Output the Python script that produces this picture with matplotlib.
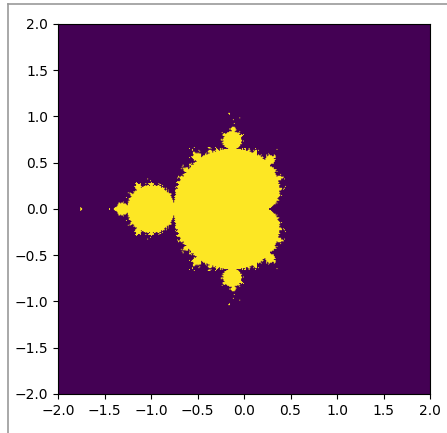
#!/usr/bin/env python3
# Mandelbrot set membership, drawn as a two-colour image

import numpy as np
import matplotlib
matplotlib.use('Agg')
import matplotlib.pyplot as plt
from matplotlib.lines import Line2D

x_range = [-2.0, 2.0]
y_range = [-2.0, 2.0]
resolution = 400
max_iter = 50
ticks = [-2.0, -1.5, -1.0, -0.5, 0.0, 0.5, 1.0, 1.5, 2.0]


def mandelbrot(xr, yr, n, iters):
    xs = np.linspace(xr[0], xr[1], n)
    ys = np.linspace(yr[0], yr[1], n)
    c = xs[np.newaxis, :] + 1j * ys[:, np.newaxis]
    z = np.zeros_like(c)
    inside = np.ones(c.shape, dtype=bool)
    for i in range(iters):
        z[inside] = z[inside] ** 2 + c[inside]
        inside &= np.abs(z) <= 2
    return inside.astype(float)


grid = mandelbrot(x_range, y_range, resolution, max_iter)

fig = plt.figure(figsize=(4.47, 4.33), dpi=100)
ax = fig.add_axes([0.1298, 0.0901, 0.8322, 0.8545])
ax.imshow(grid, cmap='viridis', origin='lower',
          extent=[x_range[0], x_range[1], y_range[0], y_range[1]],
          aspect='auto')
ax.set_xticks(ticks)
ax.set_yticks(ticks)

# thin gray frame seen at top and left edges of the reference
fig.add_artist(Line2D([7.5 / 447, 1], [1 - 3.5 / 433, 1 - 3.5 / 433],
                      transform=fig.transFigure, color='#999999', lw=1.2))
fig.add_artist(Line2D([7.5 / 447, 7.5 / 447], [0, 1 - 3.5 / 433],
                      transform=fig.transFigure, color='#999999', lw=1.2))

fig.savefig('out.png', dpi=100)
